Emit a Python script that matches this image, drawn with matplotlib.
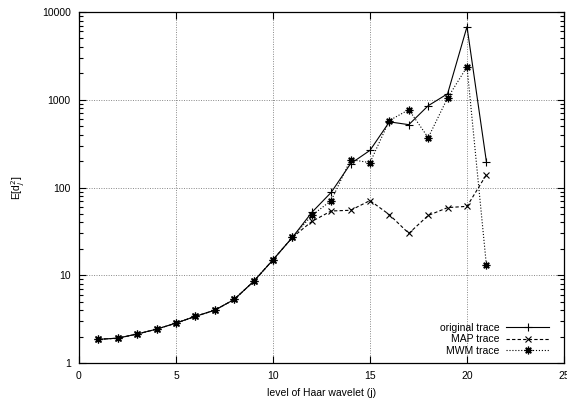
import matplotlib
matplotlib.use("Agg")
import matplotlib.pyplot as plt
from matplotlib.ticker import LogLocator, NullFormatter, FixedLocator

plt.rcParams['font.family'] = ['Liberation Sans', 'DejaVu Sans']

levels = list(range(1, 22))
original = [1.86, 1.92, 2.14, 2.43, 2.85, 3.4, 4.0, 5.3, 8.5, 15, 27, 52, 88, 187, 265, 560, 520, 855, 1170, 6800, 197]
map_trace = [1.86, 1.92, 2.14, 2.43, 2.85, 3.4, 4.0, 5.3, 8.5, 15, 27, 41, 54, 55, 71, 49, 30, 48, 59, 61, 140]
mwm_trace = [1.86, 1.92, 2.14, 2.43, 2.85, 3.4, 4.0, 5.3, 8.5, 15, 27, 48, 71, 208, 192, 580, 770, 370, 1050, 2370, 13]

xticks = [0, 5, 10, 15, 20, 25]
yticks = [1, 10, 100, 1000, 10000]
ytick_labels = ["1", "10", "100", "1000", "10000"]

fig = plt.figure(figsize=(5.67, 4.01), dpi=100)
ax = fig.add_axes([79/567, 1-363/401, (564-79)/567, (363-12)/401])

lw = 0.8
ax.plot(levels, original, '-', color='black', lw=lw, marker='+', ms=6, mew=0.8, label='original trace')
ax.plot(levels, map_trace, '--', color='black', lw=lw, dashes=(3, 2), marker='x', ms=4.5, mew=0.8, label='MAP trace')
ax.plot(levels, mwm_trace, ':', color='black', lw=lw, marker=(8, 2, 0), ms=5.5, mew=0.9, label='MWM trace')

ax.set_yscale('log')
ax.set_xlim(0, 25)
ax.set_ylim(1, 10000)
ax.set_xticks(xticks)
ax.set_xticklabels([str(t) for t in xticks])
ax.yaxis.set_major_locator(FixedLocator(yticks))
ax.set_yticklabels(ytick_labels)
ax.yaxis.set_minor_locator(LogLocator(base=10, subs=range(2, 10)))
ax.yaxis.set_minor_formatter(NullFormatter())

ax.tick_params(axis='both', which='both', direction='in', top=True, right=True, labelsize=7.5, width=0.8, color='black')
ax.tick_params(axis='both', which='major', length=5, pad=6)
ax.tick_params(axis='y', which='minor', length=3)
ax.tick_params(axis='x', which='minor', length=0)

ax.grid(True, which='major', linestyle=(0, (1, 1.5)), color='#888888', lw=0.7)
for s in ax.spines.values():
    s.set_linewidth(0.9)

ax.set_xlabel('level of Haar wavelet (j)', fontsize=7.5, labelpad=5)
ax.set_ylabel(r'E[d$_j^2$]', fontsize=7.5, labelpad=11)

leg = ax.legend(loc='lower right', bbox_to_anchor=(0.985, 0.0), frameon=False, markerfirst=False,
                fontsize=7.5, handlelength=4.2, handletextpad=0.6, labelspacing=0.15, borderaxespad=0.3)

fig.savefig('out.png', dpi=100)
